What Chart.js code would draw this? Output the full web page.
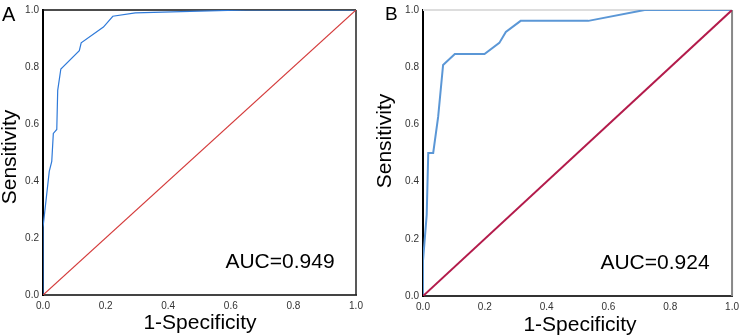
<!DOCTYPE html>
<html>
<head>
<meta charset="utf-8">
<script src="https://cdn.jsdelivr.net/npm/chart.js@4/dist/chart.umd.min.js"></script>
<style>
  html, body { margin: 0; padding: 0; background: #fff; }
  #wrap { position: relative; width: 744px; height: 335px; }
  canvas { position: absolute; top: 0; }
</style>
</head>
<body>
<div id="wrap">
  <canvas id="chartA" width="372" height="335" style="left:0"></canvas>
  <canvas id="chartB" width="372" height="335" style="left:372px"></canvas>
</div>
<script>
// ROC curve A
const fprA = [0, 0, 0.020, 0.028, 0.033, 0.044, 0.047, 0.057, 0.116, 0.122, 0.193, 0.223, 0.295, 0.470, 0.650, 1.0];
const tprA = [0, 0.237, 0.434, 0.469, 0.567, 0.581, 0.718, 0.793, 0.857, 0.885, 0.940, 0.978, 0.990, 0.995, 1.0, 1.0];

// ROC curve B
const fprB = [0, 0, 0.012, 0.017, 0.033, 0.049, 0.065, 0.103, 0.199, 0.247, 0.268, 0.316, 0.535, 0.717, 1.0];
const tprB = [0, 0.123, 0.284, 0.500, 0.500, 0.626, 0.808, 0.846, 0.846, 0.885, 0.923, 0.962, 0.962, 1.0, 1.0];

// reference line
const diagX = [0, 1];
const diagY = [0, 1];

const aucLabels = ['AUC=0.949', 'AUC=0.924'];
const panelLabels = ['A', 'B'];
const xTitle = '1-Specificity';
const yTitle = 'Sensitivity';

const FONT = '"Liberation Sans", Arial, Helvetica, sans-serif';

function toPoints(xs, ys) {
    return xs.map((x, i) => ({ x: x, y: ys[i] }));
}

// draws frame (top/right) and the text labels
function panelPlugin(cfg) {
    return {
        id: 'panelDeco' + cfg.letter,
        beforeDatasetsDraw(chart) {
            const a = chart.chartArea;
            const ctx = chart.ctx;
            ctx.save();
            ctx.lineWidth = cfg.topWidth;
            ctx.strokeStyle = cfg.topColor;
            ctx.beginPath();
            ctx.moveTo(a.left, a.top);
            ctx.lineTo(a.right, a.top);
            ctx.stroke();
            ctx.lineWidth = cfg.rightWidth;
            ctx.strokeStyle = cfg.rightColor;
            ctx.beginPath();
            ctx.moveTo(a.right, a.top);
            ctx.lineTo(a.right, a.bottom);
            ctx.stroke();
            ctx.restore();
        },
        afterDraw(chart) {
            const ctx = chart.ctx;
            ctx.save();
            ctx.fillStyle = '#000';
            // panel letter
            ctx.font = cfg.letterSize + 'px ' + FONT;
            ctx.textAlign = 'left';
            ctx.textBaseline = 'alphabetic';
            ctx.fillText(cfg.letter, cfg.letterX, cfg.letterY);
            // AUC
            ctx.font = '21px ' + FONT;
            ctx.textAlign = 'center';
            ctx.textBaseline = 'middle';
            ctx.fillText(cfg.auc, cfg.aucX, cfg.aucY);
            // x title
            ctx.font = '21px ' + FONT;
            ctx.fillText(xTitle, cfg.xtX, cfg.xtY);
            // y title
            ctx.translate(cfg.ytX, cfg.ytY);
            ctx.rotate(-Math.PI / 2);
            ctx.fillText(yTitle, 0, 0);
            ctx.restore();
        }
    };
}

function makeChart(id, opt) {
    const ctx = document.getElementById(id).getContext('2d');
    return new Chart(ctx, {
        type: 'scatter',
        data: {
            datasets: [{
                data: toPoints(diagX, diagY),
                showLine: true,
                borderColor: opt.diagColor,
                borderWidth: opt.diagWidth,
                pointRadius: 0,
                tension: 0
            }, {
                data: toPoints(opt.fpr, opt.tpr),
                showLine: true,
                borderColor: opt.curveColor,
                borderWidth: opt.curveWidth,
                pointRadius: 0,
                tension: 0
            }]
        },
        options: {
            responsive: false,
            animation: false,
            devicePixelRatio: 1,
            layout: { padding: opt.padding },
            plugins: {
                legend: { display: false },
                tooltip: { enabled: false }
            },
            scales: {
                x: {
                    type: 'linear',
                    min: 0, max: 1,
                    grid: { display: false, drawTicks: false },
                    border: { color: opt.bottomColor, width: 2 },
                    ticks: {
                        stepSize: 0.2,
                        padding: 5,
                        color: '#333',
                        font: { family: FONT, size: 10 },
                        maxRotation: 0,
                        callback: v => v.toFixed(1)
                    },
                    afterFit: s => { s.height = opt.xAxisHeight; }
                },
                y: {
                    type: 'linear',
                    min: 0, max: 1,
                    grid: { display: false, drawTicks: false },
                    border: { color: '#000', width: 2 },
                    ticks: {
                        stepSize: 0.2,
                        padding: 4,
                        color: '#333',
                        font: { family: FONT, size: 10 },
                        callback: v => v.toFixed(1)
                    },
                    afterFit: s => { s.width = opt.yAxisWidth; }
                }
            }
        },
        plugins: [panelPlugin(opt.deco)]
    });
}

makeChart('chartA', {
    fpr: fprA, tpr: tprA,
    curveColor: '#2f7ad9', curveWidth: 1.2,
    diagColor: '#d43a3a', diagWidth: 1.2,
    bottomColor: '#444',
    padding: { left: 0, right: 16, top: 6, bottom: 0 },
    xAxisHeight: 40, yAxisWidth: 43,
    deco: {
        letter: panelLabels[0], letterSize: 20, letterX: 2, letterY: 21,
        auc: aucLabels[0], aucX: 280, aucY: 262,
        xtX: 200, xtY: 323, ytX: 10, ytY: 157,
        topColor: '#111', topWidth: 1.5, rightColor: '#222', rightWidth: 1.5
    }
});

makeChart('chartB', {
    fpr: fprB, tpr: tprB,
    curveColor: '#5b97d6', curveWidth: 2,
    diagColor: '#b31b4b', diagWidth: 2,
    bottomColor: '#333',
    padding: { left: 0, right: 9, top: 4, bottom: 0 },
    xAxisHeight: 39, yAxisWidth: 51,
    deco: {
        letter: panelLabels[1], letterSize: 19, letterX: 13, letterY: 20,
        auc: aucLabels[1], aucX: 283, aucY: 263,
        xtX: 208, xtY: 325, ytX: 13, ytY: 141,
        topColor: '#ddd', topWidth: 2, rightColor: '#888', rightWidth: 2
    }
});
</script>
</body>
</html>
